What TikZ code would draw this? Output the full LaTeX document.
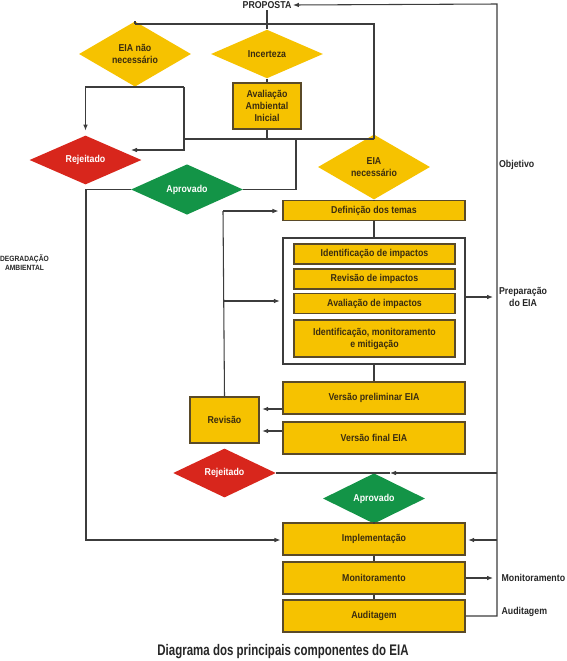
\documentclass[tikz,border=0pt]{standalone}
\usepackage{fontspec}
\setmainfont{Liberation Sans}[FakeStretch=0.88]
\newfontfamily\titulofont{Liberation Sans}[FakeStretch=0.75]
\usetikzlibrary{arrows.meta, shapes.geometric}
\definecolor{amarelo}{HTML}{F6C200}
\definecolor{vermelho}{HTML}{D8261C}
\definecolor{verde}{HTML}{139447}
\definecolor{borda}{HTML}{5A4A28}
\definecolor{texto}{HTML}{3A2C10}
\definecolor{traco}{HTML}{3C3C3C}

\begin{document}
\begin{tikzpicture}[x=0.75pt, y=-0.75pt,
  font=\fontsize{7.5}{9}\selectfont\bfseries,
  caixa/.style={draw=borda, line width=0.8pt, fill=amarelo, text=texto, align=center,
    inner sep=1pt, minimum width=136.5pt, minimum height=24pt},
  subcaixa/.style={caixa, minimum width=120.75pt, minimum height=15pt},
  moldura/.style={draw=traco, line width=0.8pt, minimum width=136.5pt, minimum height=94.5pt},
  losango/.style={diamond, align=center, inner sep=0pt, minimum width=84pt, minimum height=36.5pt},
  losamarelo/.style={losango, fill=amarelo, text=texto},
  losvermelho/.style={losango, fill=vermelho, text=white},
  losverde/.style={losango, fill=verde, text=white},
  rotulo/.style={text=black!85, inner sep=1pt},
  linha/.style={draw=traco, line width=0.8pt},
  seta/.style={linha, -{Latex[length=4.5pt,width=3.5pt]}}]

  \useasboundingbox (0,0) rectangle (567,661);

  % Proposta e triagem
  \node[rotulo] (prop) at (267,5) {PROPOSTA};
  \node[losamarelo] (naonec) at (135,54) {EIA não\\necessário};
  \node[losamarelo] (incert) at (267,54) {Incerteza};
  \node[caixa, minimum width=51pt, minimum height=34.5pt] (aai) at (267,106) {Avaliação\\Ambiental\\Inicial};
  \node[losvermelho] (rej1) at (85.5,160) {Rejeitado};
  \node[losverde] (aprov1) at (187,189.5) {Aprovado};
  \node[losamarelo] (eianec) at (374,167) {EIA\\necessário};

  % Preparacao do EIA
  \node[caixa, minimum height=15pt] (temas) at (374,210.5) {Definição dos temas};
  \node[moldura] (prepbox) at (374,301) {};
  \node[subcaixa] (imp1) at (374.5,254) {Identificação de impactos};
  \node[subcaixa] (imp2) at (374.5,279) {Revisão de impactos};
  \node[subcaixa] (imp3) at (374.5,303.5) {Avaliação de impactos};
  \node[subcaixa, minimum height=27.75pt] (imp4) at (374.5,338.5) {Identificação, monitoramento\\e mitigação};
  \node[caixa] (prelim) at (374,398) {Versão preliminar EIA};
  \node[caixa] (final) at (374,438) {Versão final EIA};
  \node[caixa, minimum width=51.75pt, minimum height=34.5pt] (revisao) at (224.5,420) {Revisão};

  % Decisao e acompanhamento
  \node[losvermelho, minimum width=77pt, minimum height=34pt] (rej2) at (224.5,473) {Rejeitado};
  \node[losverde, minimum width=76.5pt, minimum height=32.5pt] (aprov2) at (374,498.5) {Aprovado};
  \node[caixa] (impl) at (374,539) {Implementação};
  \node[caixa] (monit) at (374,578) {Monitoramento};
  \node[caixa] (audit) at (374,616) {Auditagem};

  % Rotulos
  \node[rotulo, anchor=west] (obj) at (497.5,165) {Objetivo};
  \node[rotulo, anchor=west, align=center] (prep) at (497.5,297) {Preparação\\do EIA};
  \node[rotulo, anchor=west] (monlbl) at (500,578) {Monitoramento};
  \node[rotulo, anchor=west] (audlbl) at (500,612) {Auditagem};
  \node[rotulo, font=\fontsize{5.7}{6.8}\selectfont\bfseries, align=center] (degr) at (24.5,263) {DEGRADAÇÃO\\AMBIENTAL};
  \node[text=black!85, font=\titulofont\fontsize{11.5}{13}\selectfont\bfseries] (titulo) at (283,652) {Diagrama dos principais componentes do EIA};

  % Pontos de juncao
  \coordinate (dtop) at (497,4);
  \coordinate (dbot) at (497,616);
  \coordinate (ta) at (135,24);
  \coordinate (tb) at (267,24);
  \coordinate (tc) at (374,24);
  \coordinate (ja) at (85.5,87);
  \coordinate (jb) at (184,87);
  \coordinate (jc) at (184,150);
  \coordinate (jd) at (131,150);
  \coordinate (ka) at (184,139);
  \coordinate (kb) at (267,139);
  \coordinate (kc) at (374,139);
  \coordinate (kd) at (296,139);
  \coordinate (ke) at (296,189.5);
  \coordinate (la) at (86,189.5);
  \coordinate (lb) at (86,540);
  \coordinate (ma) at (223,211);
  \coordinate (mb) at (223,301);
  \coordinate (na) at (497,473);
  \coordinate (nb) at (390,473);
  \coordinate (nc) at (374,473);
  \coordinate (oa) at (497,540);
  \coordinate (pa) at (493,578);
  \coordinate (pb) at (493,297);

  % Ligacoes
  \draw[seta] (audit.east) -- (dbot) -- (dtop) -- (prop.east);
  \draw[linha] (prop.south) -- (tb);
  \draw[linha] (ta) -- (tc) -- (kc) -- (eianec.north);
  \draw[linha] (ta) -- (naonec.north);
  \draw[linha] (tb) -- (incert.north);
  \draw[linha] (incert.south) -- (aai.north);
  \draw[linha] (aai.south) -- (kb);
  \draw[linha] (ka) -- (kc);
  \draw[linha] (naonec.south) -- (naonec.south |- ja);
  \draw[seta, shorten >=3.5pt] (jb) -- (ja) -- (rej1.north);
  \draw[seta] (jb) -- (jc) -- (jd);
  \draw[linha] (kd) -- (ke) -- (aprov1.east);
  \draw[seta, shorten >=1.5pt] (aprov1.west) -- (la) -- (lb) -- (lb -| impl.west);
  \draw[linha] (eianec.south) -- (temas.north);
  \draw[linha] (temas.south) -- (prepbox.north);
  \draw[linha] (prepbox.south) -- (prelim.north);
  \draw[seta] (prepbox.east |- pb) -- (pb);
  \draw[seta, shorten >=2pt] (prelim.west |- 0,409) -- (revisao.east |- 0,409);
  \draw[seta, shorten >=2pt] (final.west |- 0,431) -- (revisao.east |- 0,431);
  \draw[linha] (revisao.north) -- (ma);
  \draw[seta, shorten >=3pt] (ma) -- (ma -| temas.west);
  \draw[seta, shorten >=2pt] (mb) -- (mb -| prepbox.west);
  \draw[seta] (na) -- (nb);
  \draw[linha] (nb) -- (rej2.east);
  \draw[linha] (nc) -- (aprov2.north);
  \draw[linha] (aprov2.south) -- (impl.north);
  \draw[linha] (impl.south) -- (monit.north);
  \draw[linha] (monit.south) -- (audit.north);
  \draw[seta, shorten >=2pt] (oa) -- (oa -| impl.east);
  \draw[seta] (monit.east) -- (pa);
\end{tikzpicture}
\end{document}
